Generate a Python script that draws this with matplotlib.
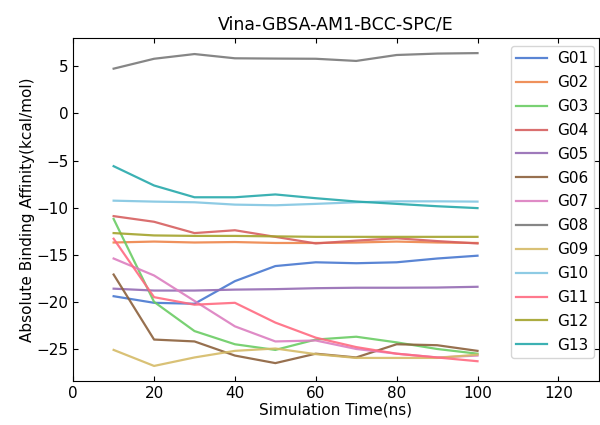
import matplotlib
matplotlib.use("Agg")
import matplotlib.pyplot as plt

times = [10, 20, 30, 40, 50, 60, 70, 80, 90, 100]
labels = ["G01", "G02", "G03", "G04", "G05", "G06", "G07", "G08", "G09", "G10", "G11", "G12", "G13"]

G01 = [-19.4, -20.1, -20.2, -17.8, -16.2, -15.8, -15.9, -15.8, -15.4, -15.1]
G02 = [-13.7, -13.6, -13.7, -13.65, -13.75, -13.75, -13.7, -13.6, -13.7, -13.75]
G03 = [-11.2, -20.0, -23.1, -24.5, -25.1, -24.0, -23.7, -24.3, -25.0, -25.5]
G04 = [-10.9, -11.5, -12.7, -12.4, -13.1, -13.8, -13.5, -13.25, -13.55, -13.8]
G05 = [-18.6, -18.8, -18.8, -18.7, -18.65, -18.55, -18.5, -18.5, -18.48, -18.4]
G06 = [-17.1, -24.0, -24.2, -25.7, -26.5, -25.5, -25.9, -24.5, -24.6, -25.2]
G07 = [-15.4, -17.2, -19.9, -22.6, -24.2, -24.1, -25.0, -25.5, -25.9, -25.7]
G08 = [4.75, 5.8, 6.3, 5.85, 5.82, 5.8, 5.57, 6.2, 6.35, 6.4]
G09 = [-25.1, -26.8, -25.9, -25.2, -24.95, -25.55, -25.95, -25.95, -25.95, -25.6]
G10 = [-9.26, -9.36, -9.43, -9.68, -9.75, -9.6, -9.43, -9.33, -9.33, -9.36]
G11 = [-13.3, -19.5, -20.3, -20.1, -22.2, -23.8, -24.8, -25.5, -25.9, -26.3]
G12 = [-12.7, -12.95, -13.0, -13.0, -13.05, -13.1, -13.1, -13.1, -13.1, -13.1]
G13 = [-5.6, -7.65, -8.9, -8.9, -8.6, -9.0, -9.35, -9.6, -9.85, -10.05]

series = [G01, G02, G03, G04, G05, G06, G07, G08, G09, G10, G11, G12, G13]
colors = ["#4878d0", "#ee854a", "#6acc64", "#d65f5f", "#956cb4", "#8c613c",
          "#dc7ec0", "#797979", "#d5bb67", "#82c6e2", "#ff6b81", "#a3a32c", "#27a9ab"]

fig = plt.figure(figsize=(6, 4.25), dpi=100)
ax = fig.add_axes([0.122, 0.1035, 0.876, 0.807])
for lab, ys, c in zip(labels, series, colors):
    ax.plot(times, ys, color=c, lw=1.6, alpha=0.9, label=lab)

ax.set_xlim(0, 130)
ax.set_ylim(-28.4, 8.0)
ax.set_xticks([0, 20, 40, 60, 80, 100, 120])
ax.set_yticks([5, 0, -5, -10, -15, -20, -25])
ax.tick_params(direction="in", top=True, right=True, labelsize=11)
ax.set_xlabel("Simulation Time(ns)", fontsize=11, labelpad=1)
ax.set_ylabel("Absolute Binding Affinity(kcal/mol)", fontsize=11, labelpad=1)
ax.set_title("Vina-GBSA-AM1-BCC-SPC/E", fontsize=12.5, pad=6)
ax.legend(loc="upper right", fontsize=11, handlelength=2.0, labelspacing=0.58,
          handletextpad=0.7, borderpad=0.35, borderaxespad=0,
          bbox_to_anchor=(0.991, 0.977))
fig.savefig("out.png", dpi=100)
